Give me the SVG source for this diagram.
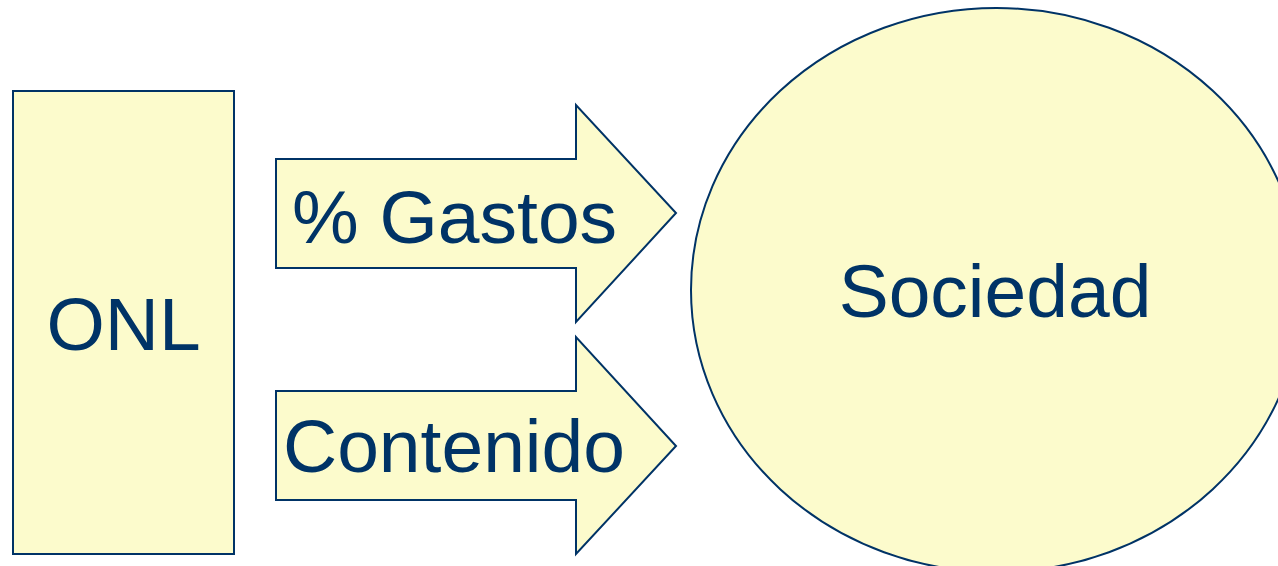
<svg xmlns="http://www.w3.org/2000/svg" width="1278" height="566" viewBox="0 0 1278 566">
<style>
.shape{fill:#FCFBCC;stroke:#003366;stroke-width:2;stroke-linejoin:miter}
.lbl{font-family:"Liberation Sans",Arial,sans-serif;font-size:75px;fill:#003366}
</style>
<rect x="0" y="0" width="1278" height="566" fill="#ffffff"/>
<g id="onl">
<rect class="shape" x="13" y="91" width="221" height="463"/>
<text class="lbl" x="123.5" y="350" text-anchor="middle">ONL</text>
</g>
<g id="sociedad">
<ellipse class="shape" cx="996.5" cy="290" rx="305.5" ry="282"/>
<text class="lbl" x="995" y="317" text-anchor="middle">Sociedad</text>
</g>
<g id="connectors">
<g id="arrow-gastos">
<polygon class="shape" points="276,159 576,159 576,105 676,213 576,322 576,268 276,268"/>
<text class="lbl" x="292" y="243">% Gastos</text>
</g>
<g id="arrow-contenido">
<polygon class="shape" points="276,391 576,391 576,337 676,446 576,554 576,500 276,500"/>
<text class="lbl" x="283" y="472">Contenido</text>
</g>
</g>
</svg>
